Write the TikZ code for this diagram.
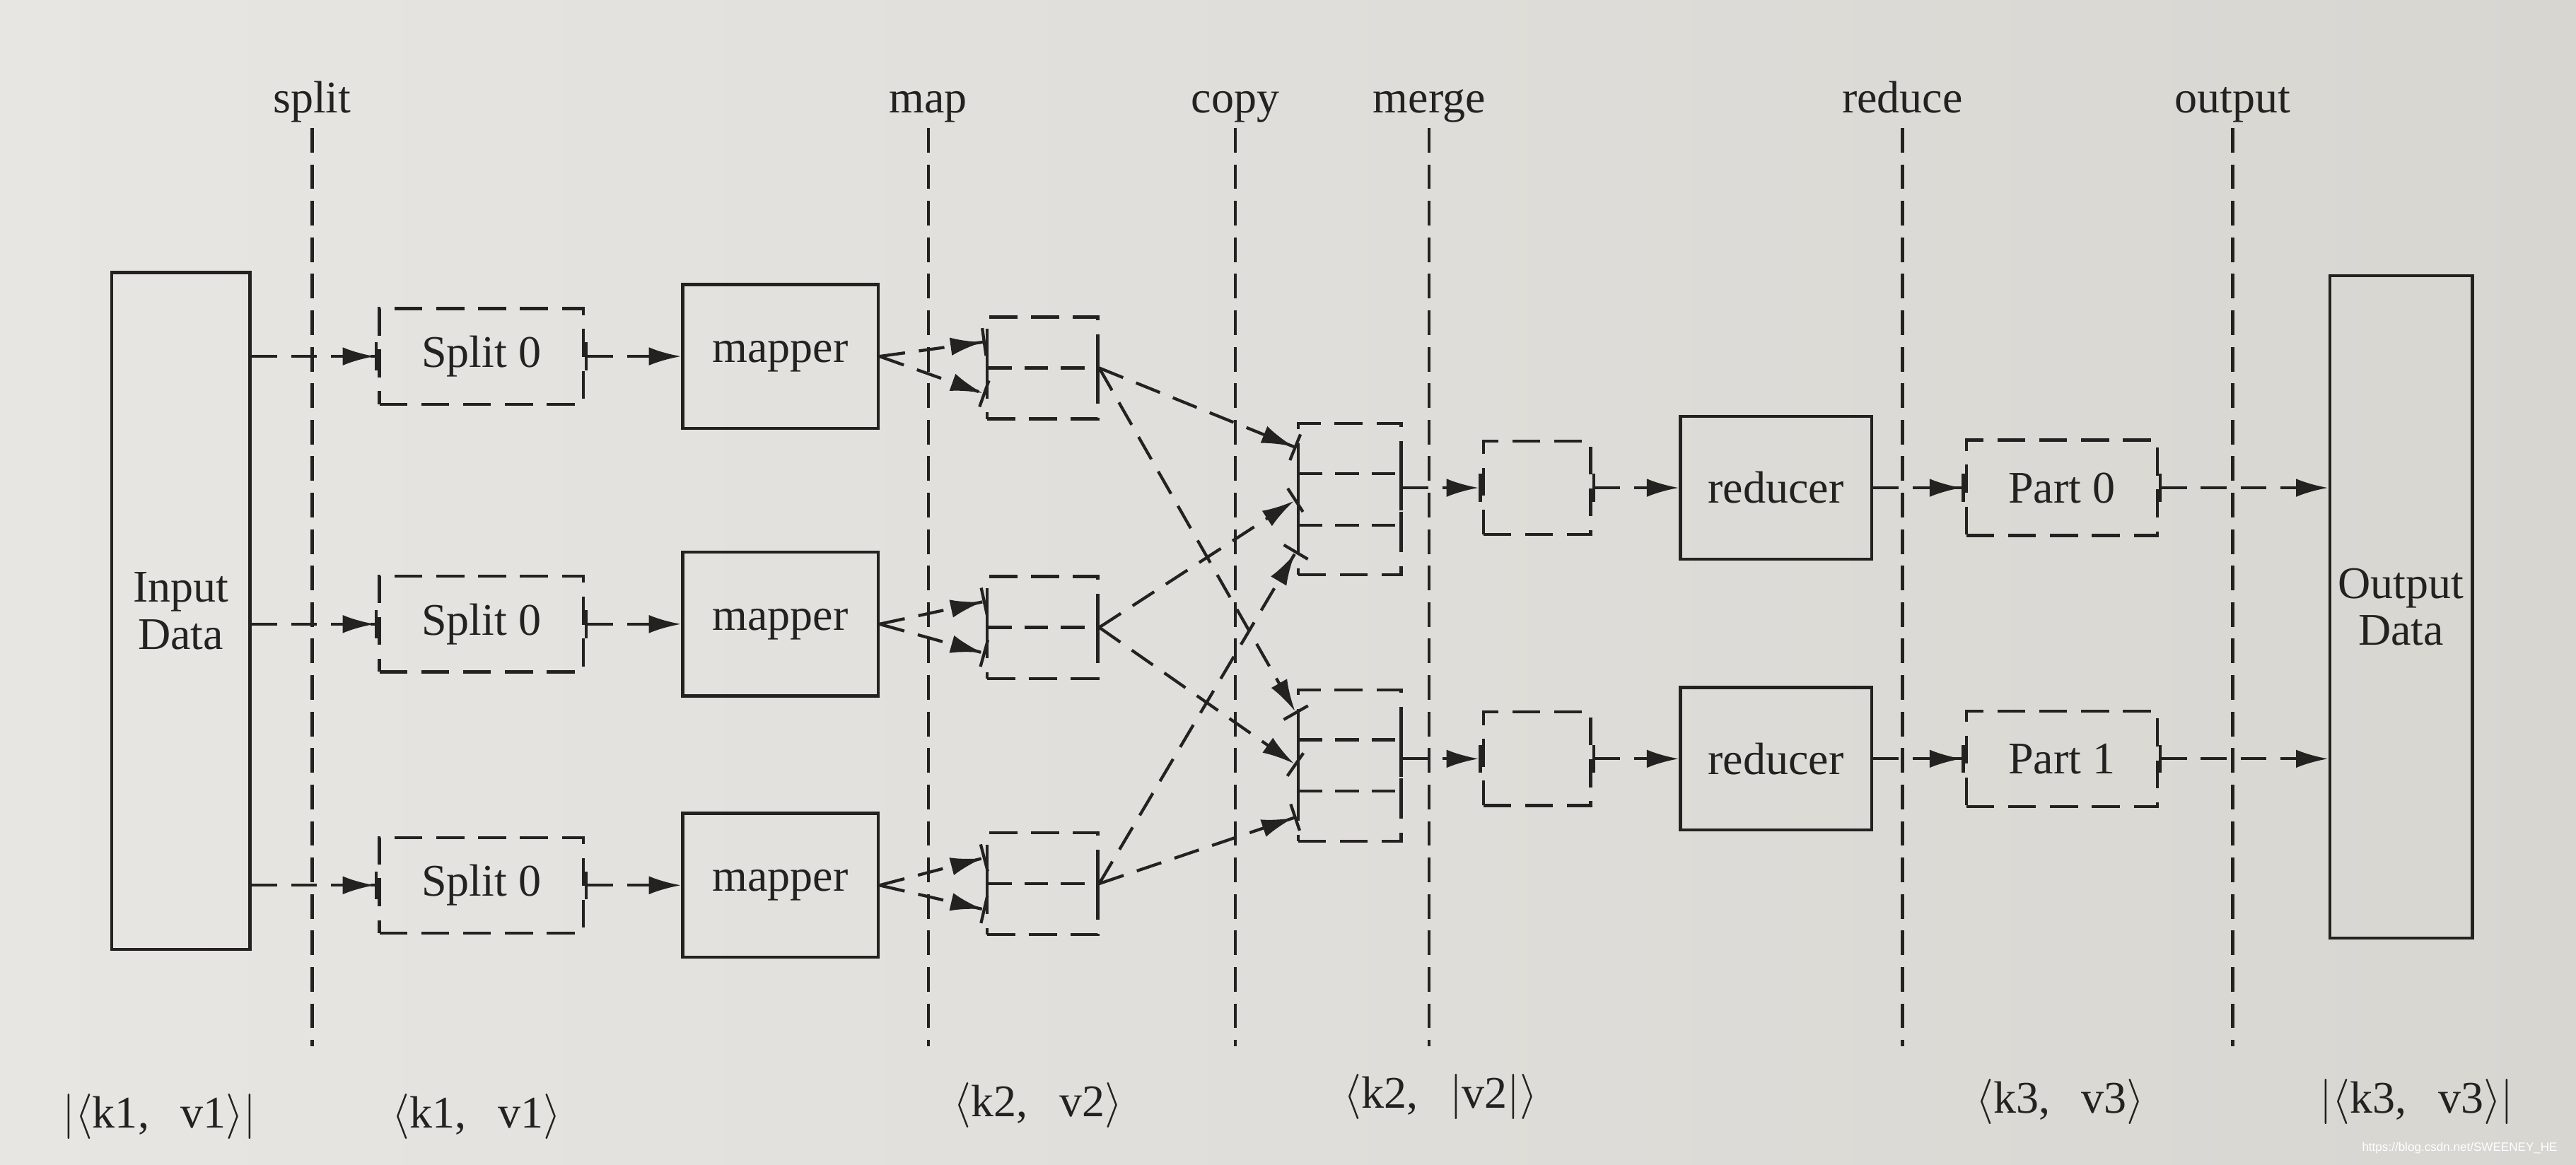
\documentclass[tikz,border=0pt]{standalone}
\usepackage{fontspec}
\setmainfont{Liberation Serif}
\newfontfamily\wmfont{Liberation Sans}
\usetikzlibrary{arrows.meta,calc}

\definecolor{paperl}{RGB}{231,230,227}
\definecolor{paperr}{RGB}{216,214,209}
\definecolor{ink}{RGB}{36,34,32}

\newcommand{\kvpair}[2]{$\bigl\langle$#1,\hspace{0.7em}#2$\bigr\rangle$}

\begin{document}
\begin{tikzpicture}[
  font=\fontsize{12}{12.5}\selectfont,
  every node/.style={text=ink},
  databox/.style={draw=ink, line width=0.8pt, align=center, inner sep=0pt, minimum width=12.9mm},
  procbox/.style={draw=ink, line width=0.8pt, align=center, inner sep=0pt, minimum width=18.2mm, minimum height=13.4mm},
  dbox/.style={draw=ink, line width=0.8pt, dash pattern=on 2.6mm off 1.3mm, inner sep=0pt, align=center},
  stage/.style={draw=ink, line width=0.8pt, dash pattern=on 2.3mm off 1.1mm},
  div/.style={{Bar[width=2.4mm]}-{Bar[width=2.4mm]}, draw=ink, line width=0.8pt, dash pattern=on 2.2mm off 1.2mm},
  arin/.style={-{Latex[length=3mm,width=1.7mm]Bar[width=2.6mm]}, draw=ink, line width=0.8pt, dash pattern=on 2.4mm off 1.3mm},
  arout/.style={{Bar[width=2.6mm]}-{Latex[length=3mm,width=1.7mm]}, draw=ink, line width=0.8pt, dash pattern=on 2.4mm off 1.3mm}
]
\shade[left color=paperl, right color=paperr] (0,0) rectangle (24,10.852);
\useasboundingbox (0,0) rectangle (24,10.852);

\foreach \x/\n/\t in {2.908/sp/split, 8.648/mp/map, 11.510/cp/copy, 13.316/mg/merge, 17.724/rd/reduce, 20.801/op/output} {
  \node[anchor=base] (lab\n) at (\x,9.8) {\t};
  \draw[stage] (\x,9.66) -- (\x,1.1);
}

\node[databox, minimum height=63.1mm] (inp) at (1.684,5.158) {Input\\Data};
\node[databox, minimum width=13.3mm, minimum height=61.7mm] (outp) at (22.370,5.196) {Output\\Data};

\node[dbox, minimum width=19mm, minimum height=8.9mm] (spl1) at (4.485,7.531) {Split 0};
\node[dbox, minimum width=19mm, minimum height=8.9mm] (spl2) at (4.485,5.036) {Split 0};
\node[dbox, minimum width=19mm, minimum height=8.9mm] (spl3) at (4.485,2.602) {Split 0};

\node[procbox] (map1) at (7.270,7.531) {mapper};
\node[procbox] (map2) at (7.270,5.036) {mapper};
\node[procbox] (map3) at (7.270,2.602) {mapper};

\node[dbox, minimum width=10.3mm, minimum height=9.5mm] (mo1) at (9.712,7.423) {};
\node[dbox, minimum width=10.3mm, minimum height=9.5mm] (mo2) at (9.712,5.005) {};
\node[dbox, minimum width=10.3mm, minimum height=9.5mm] (mo3) at (9.712,2.617) {};

\node[dbox, minimum width=9.6mm, minimum height=14.1mm] (mg1) at (12.574,6.199) {};
\node[dbox, minimum width=9.6mm, minimum height=14.1mm] (mg2) at (12.574,3.719) {};

\node[dbox, minimum width=10mm, minimum height=8.7mm] (grp1) at (14.319,6.306) {};
\node[dbox, minimum width=10mm, minimum height=8.7mm] (grp2) at (14.319,3.781) {};

\node[procbox, minimum width=17.8mm, minimum height=13.3mm] (red1) at (16.546,6.306) {reducer};
\node[procbox, minimum width=17.8mm, minimum height=13.3mm] (red2) at (16.546,3.781) {reducer};

\node[dbox, minimum width=17.8mm, minimum height=8.9mm] (prt1) at (19.209,6.306) {Part 0};
\node[dbox, minimum width=17.8mm, minimum height=8.9mm] (prt2) at (19.209,3.781) {Part 1};

\node (kv1) at (1.485,0.444) {$\bigl|$\kvpair{k1}{v1}$\bigr|$};
\node (kv2) at (4.439,0.444) {\kvpair{k1}{v1}};
\node (kv3) at (9.673,0.551) {\kvpair{k2}{v2}};
\node (kv4) at (13.423,0.628) {\kvpair{k2}{$\bigl|$v2$\bigr|$}};
\node (kv5) at (19.194,0.582) {\kvpair{k3}{v3}};
\node (kv6) at (22.515,0.582) {$\bigl|$\kvpair{k3}{v3}$\bigr|$};

\foreach \i in {1,2,3} {
  \draw[arin] (inp.east |- spl\i) -- (spl\i.west);
  \draw[arout] (spl\i.east) -- (map\i.west);
  \draw[arin] (map\i.east) -- ($(mo\i.north west)!0.25!(mo\i.south west)$);
  \draw[arin] (map\i.east) -- ($(mo\i.north west)!0.75!(mo\i.south west)$);
  \draw[div] (mo\i.west) -- (mo\i.east);
}

\foreach \i [evaluate=\i as \fr using (2*\i-1)/6] in {1,2,3} {
  \draw[arin] (mo\i.east) -- ($(mg1.north west)!\fr!(mg1.south west)$);
  \draw[arin] (mo\i.east) -- ($(mg2.north west)!\fr!(mg2.south west)$);
}

\foreach \m in {mg1,mg2} {
  \draw[div] ($(\m.north west)!1/3!(\m.south west)$) -- ($(\m.north east)!1/3!(\m.south east)$);
  \draw[div] ($(\m.north west)!2/3!(\m.south west)$) -- ($(\m.north east)!2/3!(\m.south east)$);
}

\foreach \i in {1,2} {
  \draw[arin] (mg\i.east |- grp\i) -- (grp\i.west);
  \draw[arout] (grp\i.east) -- (red\i.west);
  \draw[arin] (red\i.east) -- (prt\i.west);
  \draw[arout] (prt\i.east) -- (outp.west |- prt\i);
}

\node[text=white, font=\wmfont\fontsize{3.2}{4}\selectfont, anchor=east] (wm) at (23.95,0.15) {https://blog.csdn.net/SWEENEY\_HE};
\end{tikzpicture}
\end{document}
